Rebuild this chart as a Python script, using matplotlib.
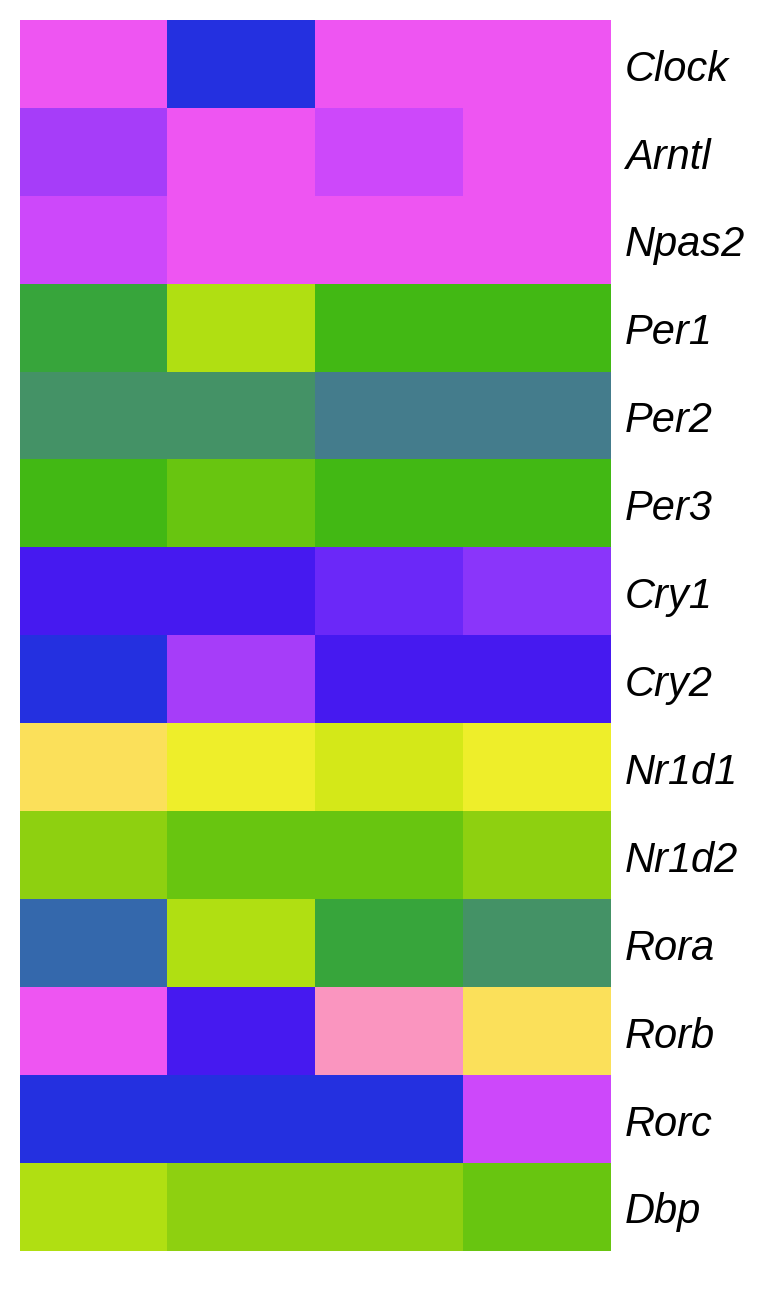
import matplotlib
matplotlib.use("Agg")
import matplotlib.pyplot as plt
from matplotlib.colors import ListedColormap, BoundaryNorm
import numpy as np

genes = ["Clock", "Arntl", "Npas2", "Per1", "Per2", "Per3", "Cry1", "Cry2",
         "Nr1d1", "Nr1d2", "Rora", "Rorb", "Rorc", "Dbp"]

# colour level per cell (4 columns), index into the cyclic palette below
col1 = [6, 4, 5, 15, 16, 14, 1, 0, 8, 12, 18, 6, 0, 11]
col2 = [0, 6, 6, 11, 16, 13, 1, 4, 9, 13, 11, 1, 0, 12]
col3 = [6, 5, 6, 14, 17, 14, 2, 1, 10, 13, 15, 7, 0, 12]
col4 = [6, 6, 6, 14, 17, 14, 3, 1, 9, 12, 16, 8, 5, 13]

palette = ["#2430E0", "#4619F0", "#6B28F8", "#8A35FA", "#A63DF9", "#CD48FA",
           "#EE55F2", "#FA95BF", "#FBE05A", "#EEEE2A", "#D4E818", "#B0DF12",
           "#8ED010", "#68C510", "#42B814", "#37A53B", "#449266", "#447C8C",
           "#3468AC"]

data = np.array([col1, col2, col3, col4]).T

W, H = 773, 1293
fig = plt.figure(figsize=(W / 100, H / 100), dpi=100)
ax = fig.add_axes([20 / W, (H - 1250.7) / H, 591 / W, 1230.7 / H])
cmap = ListedColormap(palette)
norm = BoundaryNorm(np.arange(len(palette) + 1) - 0.5, len(palette))
ax.imshow(data, cmap=cmap, norm=norm, aspect="auto", interpolation="nearest")

ax.set_xticks([])
ax.set_yticks([])
for i, g in enumerate(genes):
    ax.text(1.0 + 14 / 591, i + 0.19, g, transform=ax.get_yaxis_transform(),
            fontsize=30, fontstyle="italic", va="baseline", ha="left",
            family=["Liberation Sans", "DejaVu Sans"], clip_on=False)
for s in ax.spines.values():
    s.set_visible(False)

fig.savefig("out.png", dpi=100)
